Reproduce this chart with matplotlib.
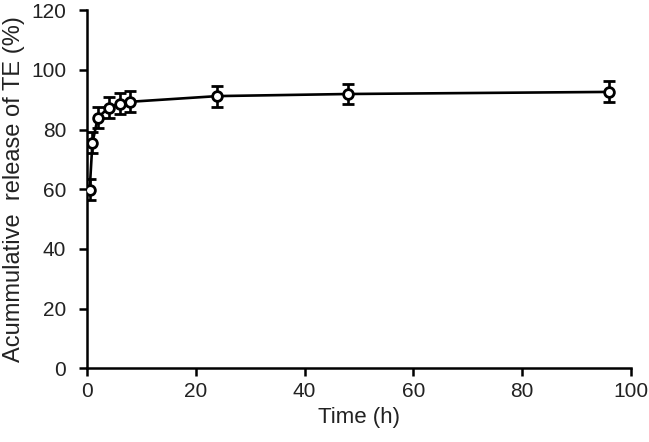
import matplotlib
matplotlib.use('Agg')
import matplotlib.pyplot as plt
import numpy as np

# Zeitpunkte (h) und kumulative Freisetzung (%)
time_h = [0.5, 1, 2, 4, 6, 8, 24, 48, 96]
release = [59.8, 75.5, 84.0, 87.3, 88.7, 89.3, 91.2, 91.9, 92.6]
release_err = [3.5, 3.5, 3.5, 3.5, 3.5, 3.5, 3.5, 3.5, 3.5]

x_ticks = [0, 20, 40, 60, 80, 100]
y_ticks = [0, 20, 40, 60, 80, 100, 120]

plt.rcParams['font.family'] = ['Liberation Sans', 'DejaVu Sans']

fig = plt.figure(figsize=(6.49, 4.42), dpi=100)
ax = fig.add_axes([0.134, 0.167, 0.838, 0.81])

ax.plot(time_h, release, color='black', lw=1.9, zorder=2)
ax.errorbar(time_h, release, yerr=release_err, fmt='o', color='black',
            mfc='white', mec='black', ms=7, mew=2, elinewidth=1.9,
            capsize=4.3, capthick=1.9, zorder=3)

ax.set_xlim(0, 100)
ax.set_ylim(0, 120)
ax.set_xticks(x_ticks)
ax.set_yticks(y_ticks)
ax.spines['top'].set_visible(False)
ax.spines['right'].set_visible(False)
for s in ['left', 'bottom']:
    ax.spines[s].set_linewidth(1.8)
ax.tick_params(direction='out', length=6, width=1.8, labelsize=15,
               colors='black', labelcolor='#222222')
ax.tick_params(axis='y', pad=9)
ax.tick_params(axis='x', pad=4)

ax.set_xlabel('Time (h)', fontsize=16, color='#222222', labelpad=4)
ax.set_ylabel('Acummulative  release of TE (%)', fontsize=17,
              color='#222222', labelpad=4)

fig.savefig('out.png', dpi=100)
